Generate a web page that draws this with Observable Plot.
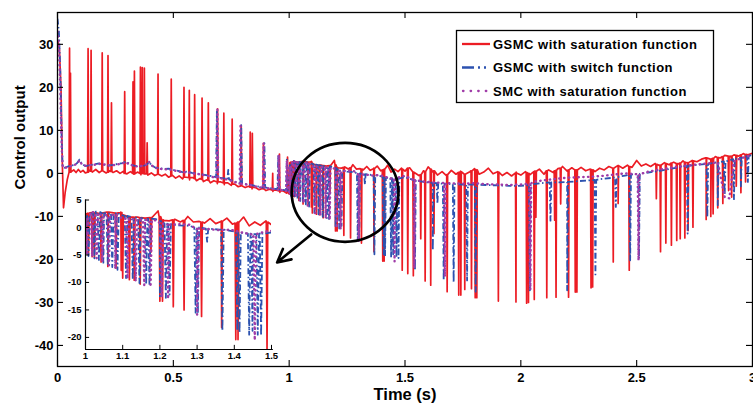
<!DOCTYPE html>
<html><head><meta charset="utf-8">
<script src="https://cdn.jsdelivr.net/npm/d3@7"></script>
<script src="https://cdn.jsdelivr.net/npm/@observablehq/plot@0.6"></script>
<style>
body{margin:0;background:#fff;}
#wrap{position:relative;width:753px;height:405px;overflow:hidden;background:#fff;}
#wrap svg{position:absolute;left:0;top:0;overflow:visible;}
</style></head><body><div id="wrap"></div><script>
const seriesNames = ["GSMC with saturation function","GSMC with switch function","SMC with saturation function"];
const colors = ["#ec1c24","#2c52b0","#a03ca8"];
const xTicks = [0,0.5,1,1.5,2,2.5,3];
const yTicks = [-40,-30,-20,-10,0,10,20,30];
const insetXTicks = [1,1.1,1.2,1.3,1.4,1.5];
const insetYTicks = [-20,-15,-10,-5,0,5];

// baselines [time, value]
const redBase = [
[0,31],[0.008,29],[0.015,20],[0.021,2],[0.026,-8],[0.033,-4.5],[0.042,-1.5],[0.05,0.2],[0.06,0.4],[0.07,0.8],[0.08,0.2],[0.09,0.9],[0.1,0.3],[0.11,0.7],[0.12,0.1],[0.135,0.8],[0.15,0.3],[0.165,0.9],[0.18,0.2],[0.195,0.7],[0.21,0.1],[0.225,0.6],[0.24,0.2],[0.255,0.6],[0.27,0.0],[0.285,0.5],[0.3,-0.1],[0.315,0.4],[0.33,-0.2],[0.345,0.3],[0.36,-0.3],[0.375,0.2],[0.39,-0.4],[0.405,0.1],[0.42,-0.5],[0.435,0.0],[0.45,-0.6],[0.465,-0.2],[0.48,-0.9],[0.495,-0.4],[0.51,-1.1],[0.525,-0.6],[0.54,-1.3],[0.555,-0.9],[0.57,-1.5],[0.585,-1.0],[0.6,-1.7],[0.615,-1.2],[0.63,-1.9],[0.645,-1.5],[0.66,-2.2],[0.675,-1.7],[0.69,-2.4],[0.705,-2.0],[0.72,-2.6],[0.735,-2.2],[0.75,-2.8],[0.765,-2.5],[0.78,-3.1],[0.795,-2.8],[0.81,-3.3],[0.825,-3.0],[0.84,-3.6],[0.855,-3.3],[0.87,-3.8],[0.885,-3.5],[0.9,-4.0],[0.915,-3.7],[0.93,-4.2],[0.945,-3.9],[0.96,-4.4],[0.975,-4.1],[0.99,-4.6],[1.0,-4.8],
[1.003,2.5],[1.02,2.8],[1.04,2.5],[1.06,2.8],[1.08,2.6],[1.095,2.8],[1.105,2.2],[1.12,1.8],[1.14,1.9],[1.16,1.7],[1.18,1.9],[1.195,3.0],[1.21,1.3],[1.225,1.2],[1.24,1.5],[1.255,1.0],[1.275,2.0],[1.29,1.0],[1.305,1.1],[1.32,0.8],[1.335,1.6],[1.35,0.7],[1.365,1.2],[1.38,1.7],[1.395,0.6],[1.41,1.0],[1.425,1.9],[1.44,0.3],[1.455,1.0],[1.47,0.4],[1.485,1.2],[1.5,0.5],[1.52,1.3],[1.54,0.2],[1.56,-0.5],[1.58,0.6],[1.6,1.5],[1.62,0.3],[1.64,-0.4],[1.66,0.4],[1.68,-0.6],[1.7,0.7],[1.72,-0.2],[1.74,0.5],[1.76,-0.3],[1.78,0.4],[1.8,1.1],[1.82,-0.2],[1.84,0.3],[1.86,1.2],[1.88,-0.1],[1.9,0.4],[1.92,-0.5],[1.94,0.2],[1.96,-0.6],[1.98,0.3],[2.0,-0.4],[2.02,0.4],[2.04,-0.3],[2.06,0.5],[2.08,1.0],[2.1,-0.2],[2.12,0.8],[2.14,0.2],[2.16,1.1],[2.18,1.6],[2.2,0.5],[2.22,1.3],[2.24,0.6],[2.26,1.4],[2.28,0.6],[2.3,1.0],[2.32,0.4],[2.34,1.2],[2.36,0.8],[2.38,1.6],[2.4,1.0],[2.42,1.8],[2.44,1.2],[2.46,1.9],[2.48,1.4],[2.5,3.0],[2.52,1.7],[2.54,2.2],[2.56,1.6],[2.58,2.3],[2.6,1.8],[2.62,2.5],[2.64,2.0],[2.66,2.6],[2.68,2.2],[2.7,2.9],[2.72,2.4],[2.74,3.0],[2.76,2.7],[2.78,3.3],[2.8,3.6],[2.82,3.3],[2.84,3.9],[2.86,3.6],[2.88,4.2],[2.9,3.9],[2.92,4.3],[2.94,4.0],[2.96,4.6],[2.98,4.3],[3.0,4.7]];

const blueBase = [
[0,36],[0.006,33],[0.012,24],[0.018,8],[0.022,1.5],[0.03,1.3],[0.045,1.6],[0.06,1.8],[0.075,2.0],[0.085,2.4],[0.095,3.2],[0.105,2.2],[0.12,1.7],[0.14,1.9],[0.16,2.1],[0.18,2.3],[0.2,2.0],[0.22,1.8],[0.24,2.0],[0.26,2.2],[0.28,2.4],[0.295,2.7],[0.31,2.2],[0.33,1.8],[0.35,1.6],[0.37,1.7],[0.385,2.0],[0.395,2.6],[0.405,2.0],[0.42,1.4],[0.44,1.2],[0.46,1.0],[0.48,1.1],[0.5,0.8],[0.52,0.6],[0.54,0.3],[0.56,0.4],[0.58,0.1],[0.6,0.0],[0.63,-0.3],[0.66,-0.6],[0.7,-1.0],[0.73,-1.3],[0.76,-1.8],[0.8,-2.4],[0.83,-2.6],[0.86,-3.0],[0.9,-3.3],[0.94,-3.6],[0.98,-3.9],[1.0,-4.2],
[1.003,2.0],[1.02,2.9],[1.05,2.6],[1.08,2.6],[1.1,2.2],[1.13,1.8],[1.16,1.6],[1.19,1.5],[1.2,1.2],[1.22,0.6],[1.25,0.4],[1.28,0.3],[1.3,0.0],[1.33,-0.2],[1.36,-0.4],[1.39,-0.6],[1.42,-1.0],[1.45,-1.2],[1.48,-1.1],[1.5,-0.9],[1.54,-1.6],[1.58,-2.0],[1.62,-2.2],[1.66,-2.4],[1.7,-2.5],[1.75,-2.6],[1.8,-2.6],[1.85,-2.7],[1.9,-2.8],[1.95,-2.9],[2.0,-2.9],[2.05,-2.5],[2.1,-2.2],[2.15,-2.1],[2.2,-2.0],[2.25,-1.8],[2.3,-1.6],[2.35,-1.3],[2.4,-1.0],[2.45,-0.5],[2.5,-0.1],[2.55,0.2],[2.6,0.6],[2.65,1.1],[2.7,1.6],[2.75,1.9],[2.8,2.2],[2.85,2.6],[2.9,3.0],[2.95,3.6],[3.0,4.4]];

const purpleBase = [
[0,33],[0.006,30],[0.012,20],[0.018,6],[0.023,1.5],[0.03,1.2],[0.045,1.5],[0.06,1.7],[0.075,2.0],[0.085,2.3],[0.095,3.0],[0.105,2.1],[0.12,1.8],[0.14,1.9],[0.16,2.0],[0.18,2.2],[0.2,2.1],[0.22,1.9],[0.24,1.9],[0.26,2.1],[0.28,2.3],[0.295,2.6],[0.31,2.1],[0.33,1.7],[0.35,1.6],[0.37,1.8],[0.385,2.1],[0.395,2.7],[0.405,1.9],[0.42,1.3],[0.44,1.1],[0.46,0.9],[0.48,1.0],[0.5,0.7],[0.52,0.5],[0.54,0.2],[0.56,0.3],[0.58,0.0],[0.6,-0.1],[0.63,-0.4],[0.66,-0.7],[0.7,-1.1],[0.73,-1.4],[0.76,-1.9],[0.8,-2.5],[0.83,-2.7],[0.86,-3.1],[0.9,-3.4],[0.94,-3.7],[0.98,-4.0],[1.0,-4.3],
[1.003,1.5],[1.02,2.8],[1.05,2.3],[1.08,2.3],[1.1,1.6],[1.13,1.5],[1.16,1.4],[1.19,1.3],[1.2,0.8],[1.22,0.5],[1.25,0.6],[1.28,0.5],[1.3,-0.2],[1.33,-0.3],[1.36,-0.5],[1.39,-0.4],[1.42,-0.9],[1.45,-1.3],[1.48,-0.8],[1.5,-0.6],[1.54,-1.5],[1.58,-1.9],[1.62,-2.1],[1.66,-2.2],[1.7,-2.3],[1.75,-2.4],[1.8,-2.3],[1.85,-2.5],[1.9,-2.6],[1.95,-2.7],[2.0,-2.6],[2.05,-2.0],[2.1,-1.6],[2.15,-1.3],[2.2,-1.0],[2.25,-0.9],[2.3,-0.8],[2.35,-0.6],[2.4,-0.3],[2.45,0.0],[2.5,-0.2],[2.55,0.4],[2.6,0.9],[2.65,1.3],[2.7,1.7],[2.75,2.0],[2.8,2.3],[2.85,2.5],[2.88,-5.5],[2.9,-5.8],[2.92,2.8],[2.95,3.5],[3.0,4.3]];

// spikes [time, from, tip]
const redSpikes = [
[0.052,0.3,29.1],[0.056,0.3,23.3],[0.132,0.3,29.0],[0.145,0.5,28.6],[0.193,0.6,28.0],[0.218,0.3,27.4],[0.233,0.4,16.4],[0.290,0.0,19.0],[0.326,0.0,21.3],[0.332,-0.1,23.8],[0.358,0.0,24.7],[0.366,0.0,24.6],[0.375,-0.1,24.5],[0.387,-0.1,7.1],[0.434,-0.2,23.1],[0.491,-0.6,21.9],[0.546,-0.9,20.0],[0.569,-1.0,19.3],[0.592,-1.2,18.3],[0.624,-1.4,17.5],[0.651,-1.6,16.4],[0.691,-2.0,15.0],[0.718,-2.2,14.0],[0.754,-2.5,12.6],[0.793,-2.9,11.1],[0.832,-3.2,9.6],[0.841,-3.2,9.3],[0.889,-3.6,7.0],[0.929,-3.9,0.0],[0.958,-4.1,4.5],[0.993,-4.4,3.8],
[1.008,2.6,-5.0],[1.018,2.7,-5.3],[1.024,2.7,-5.4],[1.042,2.6,-6.3],[1.06,2.8,-7.1],[1.082,2.6,-7.4],[1.096,2.7,-7.8],[1.10,2.3,-9.2],[1.118,1.9,-9.5],[1.131,1.9,-9.6],[1.147,1.8,-10.3],[1.176,1.8,-4.5],[1.2,2.0,-13.4],[1.207,1.4,-13.4],[1.236,1.4,-14.4],[1.265,1.3,-15.0],[1.312,1.0,-16.2],[1.366,1.1,-18.2],[1.404,0.8,-20.4],[1.41,0.9,-20.4],[1.488,1.0,-22.5],
[1.512,1.2,-23.3],[1.536,0.3,-23.8],[1.568,-0.3,-15.2],[1.587,0.4,-25.0],[1.611,1.0,-26.0],[1.625,0.6,-14.0],[1.682,-0.3,-27.5],[1.732,0.2,-28.3],[1.741,0.4,-28.3],[1.758,-0.2,-27.0],[1.787,0.6,-26.8],[1.803,0.9,-28.9],[1.81,0.8,-28.9],[1.903,0.3,-29.7],[1.979,0.1,-29.9],[2.025,0.2,-30.2],[2.033,0.0,-30.0],[2.058,0.4,-29.3],[2.065,0.5,-10.2],[2.112,0.6,-28.9],[2.146,0.6,-10.9],[2.152,0.7,-28.8],[2.172,1.2,-7.1],[2.206,0.8,-28.8],[2.235,0.8,-27.6],[2.242,0.8,-27.6],[2.303,0.9,-26.6],[2.31,0.8,-26.4],[2.399,1.2,-20.6],[2.42,1.8,-7.0],[2.468,1.6,-22.5],[2.585,2.1,-5.9],[2.603,1.9,-18.2],[2.626,2.3,-16.2],[2.65,2.4,-16.7],[2.673,2.3,-15.6],[2.688,2.4,-15.2],[2.708,2.6,-15.0],[2.722,2.5,-13.3],[2.743,2.9,-12.5],[2.80,3.6,-10.7],[2.82,3.3,-10.0],[2.83,3.5,-9.4],[2.85,3.7,-8.0],[2.872,3.9,-7.0],[2.897,4.0,-4.0],[2.91,4.0,-5.5],[2.93,4.2,-3.0],[2.95,4.3,-4.5],[2.97,4.4,-2.0]];

const blueSpikes = [
[0.688,-0.9,14.6],[0.737,-1.4,0.8],[0.793,-2.3,11.2],[0.893,-3.3,7.0],[0.953,-3.7,4.2],[0.99,-4.0,3.2],
[1.008,2.3,-5.2],[1.024,2.9,-5.6],[1.036,2.8,-5.9],[1.048,2.6,-6.4],[1.06,2.6,-6.8],[1.072,2.6,-7.2],[1.086,2.5,-7.7],[1.109,2.1,-9.2],[1.127,1.9,-9.5],[1.145,1.7,-10.1],[1.163,1.6,-10.4],[1.172,1.6,-10.6],[1.2,1.2,-12.5],[1.216,0.7,-12.8],[1.226,0.6,-12.2],[1.296,0.0,-15.5],[1.302,0.0,-15.7],[1.327,-0.2,-2.6],[1.368,-0.4,-18.8],[1.408,-0.8,-18.8],[1.414,-0.9,-19.2],[1.44,-1.1,-19.5],[1.449,-1.2,-18.8],[1.463,-1.2,-19.5],[1.472,-1.1,-19.7],[1.543,-1.6,-22.6],[1.62,-2.2,-17.9],[1.64,-2.3,-7.0],[1.667,-2.4,-24.9],[1.71,-2.5,-25.3],[1.768,-2.6,-24.9],[1.805,-2.6,-27.5],[2.039,-2.7,-27.2],[2.128,-2.1,-11.0],[2.2,-2.0,-27.2],[2.322,-1.5,-23.5],[2.41,-0.9,-7.8],[2.472,-0.3,-20.2],[2.51,-0.1,-19.8],[2.72,1.8,-14.0],[2.805,2.2,-10.2],[2.85,2.6,-7.4],[2.88,2.8,-5.0],[2.92,3.3,-6.0],[2.95,3.6,-3.0],[2.98,4.0,-2.0]];

const purpleSpikes = [
[0.69,-1.1,14.8],[0.79,-2.4,11.0],[0.89,-3.4,7.0],[0.955,-3.8,4.3],[0.99,-4.1,3.0],
[1.004,1.6,-5.0],[1.018,2.8,-5.3],[1.03,2.6,-5.6],[1.045,2.3,-6.2],[1.063,2.3,-6.9],[1.08,2.3,-7.5],[1.113,1.6,-9.3],[1.135,1.5,-9.8],[1.158,1.4,-10.5],[1.175,1.3,-10.8],[1.205,0.7,-12.7],[1.222,0.5,-13.0],[1.3,-0.2,-15.9],[1.455,-1.2,-20.5],[1.54,-1.5,-22.0],[1.672,-2.2,-24.0],[2.041,-2.4,-27.0],[2.508,-0.2,-20.2]];

// annotations
const zoomCircle = [{t:1.2435, v:-4.53, rt:0.2306, rv:11.5}];
const zoomArrow = [{x1:1.095, y1:-14.2, x2:0.948, y2:-20.7}];

function build(base, spikes, hw){
  const pts = base.map(([t,v])=>({t,v}));
  for (const [t,f,to] of spikes) pts.push({t:t-hw,v:f},{t,v:to},{t:t+hw,v:f});
  pts.sort((a,b)=>a.t-b.t);
  return pts;
}
const red = build(redBase, redSpikes, 0.002);
const blue = build(blueBase, blueSpikes, 0.0035);
const purple = build(purpleBase, purpleSpikes, 0.0035);

const FONT = "Arial, 'Liberation Sans', Helvetica, sans-serif";
function lines(){
  return [
    Plot.line(red, {x:"t", y:"v", stroke:colors[0], strokeWidth:1.7, clip:true}),
    Plot.line(blue, {x:"t", y:"v", stroke:colors[1], strokeWidth:1.8, strokeDasharray:"6,2.5,1.5,2.5", strokeLinecap:"butt", clip:true}),
    Plot.line(purple, {x:"t", y:"v", stroke:colors[2], strokeWidth:2.4, strokeDasharray:"0.4,4.4", strokeLinecap:"round", clip:true})
  ];
}
const YD = [-44.9, 37.4];
const main = Plot.plot({
  width:753, height:405, marginLeft:57, marginRight:1, marginTop:12, marginBottom:39,
  style:{fontFamily:FONT, background:"transparent", color:"black"},
  x:{domain:[0,3]}, y:{domain:YD},
  marks:[
    ...lines(),
    Plot.frame({stroke:"black", strokeWidth:1.3}),
    Plot.ruleX(xTicks, {y1:YD[0], y2:YD[0]+1.4, stroke:"black", strokeWidth:1.1}),
    Plot.ruleX(xTicks, {y1:YD[1], y2:YD[1]-1.4, stroke:"black", strokeWidth:1.1}),
    Plot.ruleY(yTicks, {x1:0, x2:0.026, stroke:"black", strokeWidth:1.1}),
    Plot.ruleY(yTicks, {x1:3, x2:3-0.026, stroke:"black", strokeWidth:1.1}),
    Plot.axisX(xTicks, {tickSize:0, tickPadding:6, fontSize:13, fontWeight:"bold", tickFormat:d=>String(d), label:null}),
    Plot.axisY(yTicks, {tickSize:0, tickPadding:4, fontSize:13, fontWeight:"bold", tickFormat:d=>String(d), label:null}),
    Plot.text(["Time (s)"], {text:d=>d, frameAnchor:"bottom", lineAnchor:"bottom", dy:33, fontSize:16.5, fontWeight:"bold"}),
    Plot.text(["Control output"], {text:d=>d, frameAnchor:"left", dx:-37, rotate:-90, fontSize:15, fontWeight:"bold"}),
    Plot.arrow(zoomArrow, {x1:"x1", y1:"y1", x2:"x2", y2:"y2", stroke:"black", strokeWidth:2.6, headLength:10, headAngle:55})
  ]
});
const wrap = document.getElementById("wrap");
wrap.appendChild(main);

const sx = main.scale("x"), sy = main.scale("y");
const svg = d3.select(main);
svg.append("g").selectAll("ellipse").data(zoomCircle).join("ellipse")
  .attr("cx", d=>sx.apply(d.t)).attr("cy", d=>sy.apply(d.v))
  .attr("rx", d=>sx.apply(d.t+d.rt)-sx.apply(d.t))
  .attr("ry", d=>sy.apply(d.v-d.rv)-sy.apply(d.v))
  .attr("fill","none").attr("stroke","black").attr("stroke-width",2.7);

// legend
const lg = svg.append("g").attr("font-family", FONT).attr("font-weight","bold").attr("font-size",13).attr("text-anchor","start");
lg.append("rect").attr("x",456.5).attr("y",30.5).attr("width",257).attr("height",72)
  .attr("fill","white").attr("stroke","black").attr("stroke-width",1.3);
const legendDash = [null, "12,4,2,4,2,4", "0.5,7.1"];
seriesNames.forEach((name,i)=>{
  const yy = 44 + i*23.5;
  lg.append("line").attr("x1",i===2?463:462).attr("x2",490).attr("y1",yy).attr("y2",yy)
    .attr("stroke",colors[i]).attr("stroke-width",2.3)
    .attr("stroke-dasharray",legendDash[i]).attr("stroke-linecap", i===2?"round":"butt");
  lg.append("text").attr("x",493).attr("y",yy).attr("dy","0.36em").attr("text-anchor","start")
    .attr("letter-spacing","0.5").attr("fill","black").text(name);
});

// inset
const IY = [-22.2, 5];
const inset = Plot.plot({
  width:218, height:172, marginLeft:30, marginRight:2, marginTop:4.5, marginBottom:18,
  style:{fontFamily:FONT, background:"transparent", color:"black"},
  x:{domain:[1,1.5]}, y:{domain:IY},
  marks:[
    ...lines(),
    Plot.ruleX([1], {y1:IY[0], y2:IY[1], stroke:"black", strokeWidth:1.2}),
    Plot.ruleY([IY[0]], {x1:1, x2:1.505, stroke:"black", strokeWidth:1.2}),
    Plot.ruleX(insetXTicks, {y1:IY[0], y2:IY[0]+0.75, stroke:"black"}),
    Plot.ruleY(insetYTicks, {x1:1, x2:1.011, stroke:"black"}),
    Plot.axisX(insetXTicks, {tickSize:0, tickPadding:3, fontSize:9.5, fontWeight:"bold", tickFormat:d=>String(d), label:null}),
    Plot.axisY(insetYTicks, {tickSize:0, tickPadding:4, fontSize:9.5, fontWeight:"bold", tickFormat:d=>String(d), label:null})
  ]
});
inset.style.left = "54.7px";
inset.style.top = "195px";
wrap.appendChild(inset);
</script></body></html>
